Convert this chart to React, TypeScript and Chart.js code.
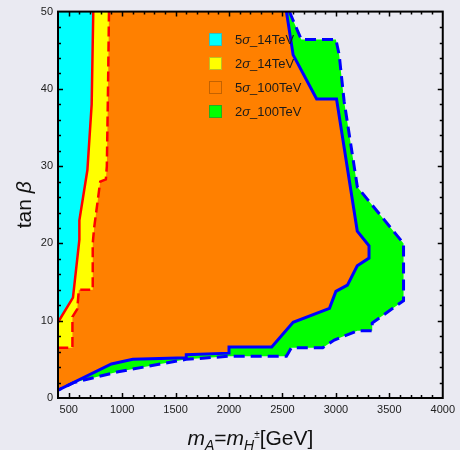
import { useEffect, useRef } from "react";
import { Chart, registerables } from "chart.js";

Chart.register(...registerables);

const X_MIN = 400;
const X_MAX = 4000;
const Y_MIN = 0;
const Y_MAX = 50;
const xTickValues = [500, 1000, 1500, 2000, 2500, 3000, 3500, 4000];
const yTickValues = [0, 10, 20, 30, 40, 50];
const xMinorStep = 100;
const yMinorStep = 2;

const legendLabels = ["5σ_14TeV", "2σ_14TeV", "5σ_100TeV", "2σ_100TeV"];

type P = { x: number; y: number };

// 5σ reach at 14 TeV (solid red boundary), from top edge to left edge
const sigma5_14TeV: P[] = [
  { x: 730, y: 50 }, { x: 715, y: 38 }, { x: 675, y: 29.5 }, { x: 600, y: 23 },
  { x: 600, y: 20.5 }, { x: 540, y: 13 }, { x: 400, y: 9.8 },
];

// 2σ reach at 14 TeV (dashed red boundary)
const sigma2_14TeV: P[] = [
  { x: 877, y: 50 }, { x: 868, y: 40 }, { x: 857, y: 30 }, { x: 848, y: 28.3 },
  { x: 795, y: 28 }, { x: 738, y: 22 }, { x: 725, y: 20 }, { x: 725, y: 14 },
  { x: 595, y: 14 }, { x: 580, y: 11.5 }, { x: 535, y: 10.5 }, { x: 535, y: 6.5 },
  { x: 400, y: 6.5 },
];

// 5σ reach at 100 TeV (solid blue boundary)
const sigma5_100TeV: P[] = [
  { x: 2537, y: 50 }, { x: 2600, y: 44.4 }, { x: 2820, y: 38.7 }, { x: 3006, y: 38.7 },
  { x: 3200, y: 21.6 }, { x: 3310, y: 19.7 }, { x: 3310, y: 18.1 }, { x: 3200, y: 17.1 },
  { x: 3108, y: 14.6 }, { x: 3000, y: 13.8 }, { x: 2940, y: 11.6 }, { x: 2600, y: 9.8 },
  { x: 2400, y: 6.6 }, { x: 2000, y: 6.6 }, { x: 2000, y: 5.8 }, { x: 1600, y: 5.6 },
  { x: 1600, y: 5.2 }, { x: 1100, y: 5.0 }, { x: 900, y: 4.4 }, { x: 400, y: 1.0 },
];

// 2σ reach at 100 TeV (dashed blue boundary)
const sigma2_100TeV: P[] = [
  { x: 2565, y: 50 }, { x: 2676, y: 46.4 }, { x: 3000, y: 46.4 }, { x: 3031, y: 44.4 },
  { x: 3077, y: 38.4 }, { x: 3201, y: 27.3 }, { x: 3633, y: 20 }, { x: 3633, y: 12.6 },
  { x: 3340, y: 9.7 }, { x: 3340, y: 8.7 }, { x: 3201, y: 8.7 }, { x: 2985, y: 7.5 },
  { x: 2877, y: 6.5 }, { x: 2583, y: 6.5 }, { x: 2537, y: 5.4 }, { x: 2000, y: 5.4 },
  { x: 1600, y: 5.0 }, { x: 963, y: 3.4 }, { x: 546, y: 2.0 }, { x: 400, y: 1.0 },
];

const corner: P = { x: X_MIN, y: Y_MAX };

const BG = "#EAEAF2";
const FONT = "'Liberation Sans', Arial, Helvetica, sans-serif";
const fillColors = ["#00FFFF", "#FFFF00", "#FF8000", "#00FF00"];
const legendBorders = ["#2FBFBF", "#BFBF20", "#C46200", "#22B022"];

type Piece = { t: string; f: string; dy: number };

function drawPieces(ctx: CanvasRenderingContext2D, pieces: Piece[], cx: number, y: number) {
  let total = 0;
  const widths = pieces.map((p) => {
    ctx.font = p.f;
    const w = ctx.measureText(p.t).width;
    total += w;
    return w;
  });
  let x = cx - total / 2;
  ctx.textAlign = "left";
  ctx.textBaseline = "alphabetic";
  pieces.forEach((p, i) => {
    ctx.font = p.f;
    ctx.fillText(p.t, x, y + p.dy);
    x += widths[i];
  });
}

const framePlugin = {
  id: "mmaFrame",
  beforeDraw(chart: any) {
    const { ctx, width, height } = chart;
    ctx.save();
    ctx.fillStyle = BG;
    ctx.fillRect(0, 0, width, height);
    ctx.restore();
  },
  afterDraw(chart: any) {
    const { ctx, chartArea: a, scales } = chart;
    const xs = scales.x;
    const ys = scales.y;
    ctx.save();
    ctx.strokeStyle = "#000";
    ctx.lineWidth = 1.5;
    ctx.beginPath();
    for (let v = X_MIN + xMinorStep; v < X_MAX; v += xMinorStep) {
      const major = xTickValues.includes(v);
      const len = major ? 5 : 3;
      const px = Math.round(xs.getPixelForValue(v)) + 0.5;
      ctx.moveTo(px, a.bottom);
      ctx.lineTo(px, a.bottom - len);
      ctx.moveTo(px, a.top);
      ctx.lineTo(px, a.top + len);
    }
    for (let v = Y_MIN + yMinorStep; v < Y_MAX; v += yMinorStep) {
      const major = yTickValues.includes(v);
      const len = major ? 5 : 3;
      const py = Math.round(ys.getPixelForValue(v)) + 0.5;
      ctx.moveTo(a.left, py);
      ctx.lineTo(a.left + len, py);
      ctx.moveTo(a.right, py);
      ctx.lineTo(a.right - len, py);
    }
    ctx.stroke();
    ctx.lineWidth = 2;
    ctx.strokeRect(a.left, a.top, a.right - a.left, a.bottom - a.top);

    // legend
    const lx = 209.5;
    const ly = 33.5;
    legendLabels.forEach((label, i) => {
      const y = ly + i * 24;
      ctx.fillStyle = fillColors[i];
      ctx.fillRect(lx, y, 12, 12);
      ctx.strokeStyle = legendBorders[i];
      ctx.lineWidth = 1;
      ctx.strokeRect(lx, y, 12, 12);
      const [a1, a2] = label.split("σ");
      ctx.fillStyle = "#1a1a1a";
      ctx.textAlign = "left";
      ctx.textBaseline = "alphabetic";
      let tx = 235;
      const by = y + 10.5;
      ctx.font = `13px ${FONT}`;
      ctx.fillText(a1, tx, by);
      tx += ctx.measureText(a1).width;
      ctx.font = `italic 13px ${FONT}`;
      ctx.fillText("σ", tx, by);
      tx += ctx.measureText("σ").width;
      ctx.font = `13px ${FONT}`;
      ctx.fillText(a2, tx, by);
    });

    // axis titles
    ctx.fillStyle = "#111";
    const cx = (a.left + a.right) / 2;
    drawPieces(
      ctx,
      [
        { t: "m", f: `italic 21px ${FONT}`, dy: 0 },
        { t: "A", f: `italic 14px ${FONT}`, dy: 5 },
        { t: "=", f: `21px ${FONT}`, dy: 0 },
        { t: "m", f: `italic 21px ${FONT}`, dy: 0 },
        { t: "H", f: `italic 14px ${FONT}`, dy: 5 },
        { t: "±", f: `10px ${FONT}`, dy: -7 },
        { t: "[GeV]", f: `21px ${FONT}`, dy: 0 },
      ],
      cx,
      445
    );
    ctx.save();
    ctx.translate(31, (a.top + a.bottom) / 2);
    ctx.rotate(-Math.PI / 2);
    drawPieces(
      ctx,
      [
        { t: "tan ", f: `21px ${FONT}`, dy: 0 },
        { t: "β", f: `italic 21px ${FONT}`, dy: 0 },
      ],
      0,
      0
    );
    ctx.restore();
    ctx.restore();
  },
};

function fillDataset(data: P[], color: string, order: number) {
  return {
    data,
    showLine: true,
    fill: "shape",
    backgroundColor: color,
    borderColor: "rgba(0,0,0,0)",
    borderWidth: 0,
    pointRadius: 0,
    pointHoverRadius: 0,
    order,
  };
}

function lineDataset(data: P[], color: string, dash: number[], width: number, order: number) {
  return {
    data,
    showLine: true,
    fill: false,
    borderColor: color,
    backgroundColor: color,
    borderWidth: width,
    borderDash: dash,
    pointRadius: 0,
    pointHoverRadius: 0,
    order,
  };
}

export default function App() {
  const ref = useRef<HTMLCanvasElement | null>(null);
  useEffect(() => {
    if (!ref.current) return;
    const chart = new Chart(ref.current, {
      type: "scatter",
      data: {
        datasets: [
          fillDataset([corner, ...sigma2_100TeV], fillColors[3], 20),
          fillDataset([corner, ...sigma5_100TeV], fillColors[2], 19),
          fillDataset([corner, ...sigma2_14TeV], fillColors[1], 18),
          fillDataset([corner, ...sigma5_14TeV], fillColors[0], 17),
          lineDataset(sigma2_100TeV, "#0000FF", [11, 6], 3, 4),
          lineDataset(sigma5_100TeV, "#0000FF", [], 3, 3),
          lineDataset(sigma2_14TeV, "#FF0000", [10, 5], 2.5, 2),
          lineDataset(sigma5_14TeV, "#FF0000", [], 2.5, 1),
        ] as any,
      },
      options: {
        responsive: false,
        animation: false,
        layout: { padding: { top: 10, right: 14, left: 0, bottom: 0 } },
        plugins: {
          legend: { display: false },
          tooltip: { enabled: false },
        },
        elements: { line: { tension: 0 } },
        scales: {
          x: {
            type: "linear",
            min: X_MIN,
            max: X_MAX,
            grid: { display: false, drawTicks: false },
            border: { display: false },
            afterBuildTicks: (s: any) => {
              s.ticks = xTickValues.map((v) => ({ value: v }));
            },
            afterFit: (s: any) => {
              s.height = 52;
            },
            ticks: {
              padding: 5,
              color: "#222",
              font: { size: 11, family: FONT },
              maxRotation: 0,
              autoSkip: false,
              callback: (v: any) => String(v),
            },
          },
          y: {
            type: "linear",
            min: Y_MIN,
            max: Y_MAX,
            grid: { display: false, drawTicks: false },
            border: { display: false },
            afterBuildTicks: (s: any) => {
              s.ticks = yTickValues.map((v) => ({ value: v }));
            },
            afterFit: (s: any) => {
              s.width = 58;
            },
            ticks: {
              padding: 5,
              color: "#222",
              font: { size: 11, family: FONT },
              autoSkip: false,
              callback: (v: any) => String(v),
            },
          },
        },
      } as any,
      plugins: [framePlugin],
    });
    return () => chart.destroy();
  }, []);

  return (
    <div
      style={{
        position: "fixed",
        left: 0,
        top: 0,
        width: 460,
        height: 450,
        background: BG,
        overflow: "hidden",
      }}
    >
      <canvas ref={ref} width={460} height={450} style={{ display: "block", width: 460, height: 450 }} />
    </div>
  );
}
